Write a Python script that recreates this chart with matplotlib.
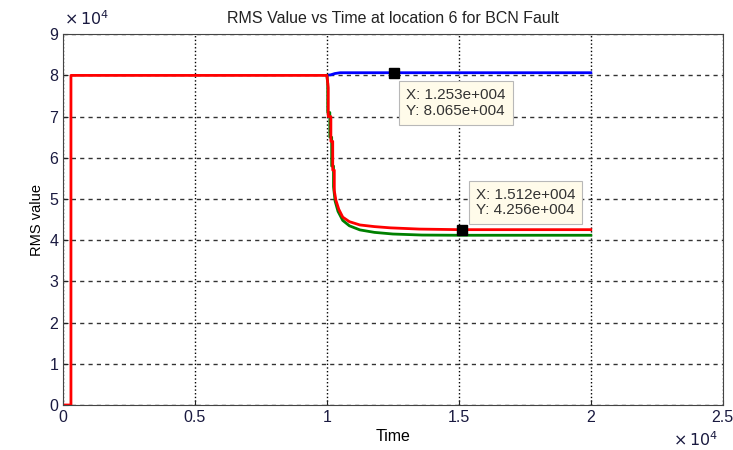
import numpy as np
import matplotlib.pyplot as plt
from matplotlib.ticker import FuncFormatter

plt.rcParams['font.family'] = ['Liberation Sans', 'DejaVu Sans']

# datos (tiempo, valor RMS)
t_red = [0, 300, 300, 10000, 10050, 10050, 10150, 10150, 10220, 10220, 10280, 10280,
         10340, 10450, 10600, 10850, 11250, 11800, 12400, 13500, 15000, 20000]
v_red = [0, 0, 80000, 80000, 77000, 70000, 70000, 64000, 64000, 57000, 57000, 52000,
         49700, 47500, 45600, 44500, 43700, 43300, 43000, 42700, 42560, 42560]

t_green = [10000, 10030, 10030, 10110, 10110, 10180, 10180, 10250, 10250, 10310,
           10420, 10600, 10850, 11250, 11800, 12500, 13600, 15000, 20000]
v_green = [80000, 78000, 71000, 71000, 65000, 65000, 58000, 58000, 53000, 49500,
           47000, 44800, 43500, 42500, 41900, 41500, 41250, 41200, 41200]

t_blue = [10000, 10150, 10300, 10500, 12530, 20000]
v_blue = [80000, 80150, 80450, 80650, 80650, 80650]

tip1 = (12530, 80650)
tip2 = (15120, 42560)

fig = plt.figure(figsize=(7.33, 4.5), dpi=100)
ax = fig.add_axes([0.086, 0.1, 0.9, 0.824])

ax.plot(t_blue, v_blue, color='#0000ff', lw=2)
ax.plot(t_green, v_green, color='#008000', lw=2)
ax.plot(t_red, v_red, color='#ff0000', lw=2)

ax.set_xlim(0, 25000)
ax.set_ylim(0, 90000)
ax.set_xticks([0, 5000, 10000, 15000, 20000, 25000])
ax.set_yticks(np.arange(0, 90001, 10000))
ax.xaxis.set_major_formatter(FuncFormatter(lambda v, p: '%g' % (v / 1e4)))
ax.yaxis.set_major_formatter(FuncFormatter(lambda v, p: '%g' % (v / 1e4)))
ax.tick_params(direction='in', labelsize=11.5, colors='#222222', labelcolor='#1a1a40')
ax.xaxis.grid(True, linestyle=':', color='black', lw=1)
ax.yaxis.grid(True, linestyle='--', color='#333333', lw=1, dashes=(3, 3))
for s in ax.spines.values():
    s.set_color('#444444')

ax.set_title('RMS Value vs Time at location 6 for BCN Fault', fontsize=11.5, color='#222222', pad=8)
ax.set_xlabel('Time', fontsize=11.5, labelpad=3)
ax.set_ylabel('RMS value', fontsize=10.5)

fig.text(0.087, 0.945, r'$\times\,10^{4}$', fontsize=11.5, color='#1a1a40')
fig.text(0.918, 0.01, r'$\times\,10^{4}$', fontsize=11.5, color='#1a1a40')

# datatips
box = dict(boxstyle='square,pad=0.45', fc='#fffbea', ec='#b8b8b8', lw=0.8)
for (tx, ty), off, va in [(tip1, (9, -11), 'top'), (tip2, (10, 9), 'bottom')]:
    ax.plot(tx, ty, 's', color='black', ms=7)
    ax.annotate('X: %.3fe+004\nY: %.3fe+004' % (tx / 1e4, ty / 1e4), (tx, ty),
                xytext=off, textcoords='offset points', va=va, ha='left',
                fontsize=11, color='#333333', bbox=box, linespacing=1.15)

plt.savefig('out.png', dpi=100)
